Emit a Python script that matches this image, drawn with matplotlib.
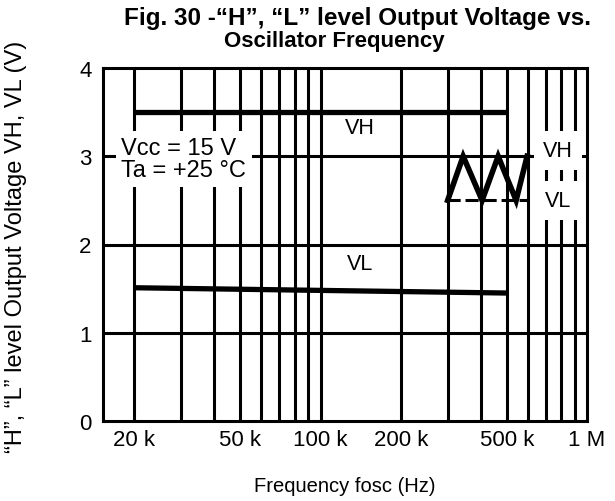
import matplotlib
matplotlib.use("Agg")
import matplotlib.pyplot as plt
from matplotlib.ticker import FixedLocator, NullFormatter

plt.rcParams['font.family'] = ['Liberation Sans', 'DejaVu Sans']

# Data
freq = [20e3, 500e3]
vh = [3.5, 3.5]
vl = [1.51, 1.45]

# Inset waveform sketch (triangle wave between VL and VH)
wave_f = [300e3, 343e3, 404e3, 464e3, 542e3, 596e3]
wave_v = [2.5, 3.0, 2.5, 3.0, 2.5, 3.0]
dash_f = [297e3, 596e3]
dash_v = [2.5, 2.5]

xtick_vals = [20e3, 50e3, 100e3, 200e3, 500e3, 1e6]
xtick_labels = ["20 k", "50 k", "100 k", "200 k", "500 k", "1 M"]
grid_x = [20e3, 30e3, 40e3, 50e3, 60e3, 70e3, 80e3, 90e3,
          100e3, 200e3, 300e3, 400e3, 500e3, 600e3, 700e3, 800e3, 900e3]
ytick_vals = [0, 1, 2, 3, 4]

W, H = 615, 502
fig = plt.figure(figsize=(W / 100, H / 100), dpi=100)
ax = fig.add_axes([102.5 / W, 1 - 422 / H, (587 - 102.5) / W, (422 - 69) / H])

ax.set_xscale('log')
ax.set_xlim(15.2e3, 1e6)
ax.set_ylim(0, 4)

glw = 2.2
for gx in grid_x:
    ax.axvline(gx, color='black', lw=glw, zorder=0.5)
for gy in [1, 2, 3]:
    ax.axhline(gy, color='black', lw=glw, zorder=0.5)

ax.plot(freq, vh, color='black', lw=3.8, solid_capstyle='butt', zorder=2)
ax.plot(freq, vl, color='black', lw=3.8, solid_capstyle='butt', zorder=2)
ax.plot(wave_f, wave_v, color='black', lw=4.0, solid_joinstyle='miter', zorder=2)
ax.plot(dash_f, dash_v, color='black', lw=2.2, dashes=(4.3, 1.6), zorder=2)

for s in ax.spines.values():
    s.set_linewidth(glw)
    s.set_color('black')

ax.xaxis.set_major_locator(FixedLocator(xtick_vals))
ax.set_xticklabels(xtick_labels)
ax.xaxis.set_minor_locator(FixedLocator([]))
ax.xaxis.set_minor_formatter(NullFormatter())
ax.set_yticks(ytick_vals)
ax.tick_params(axis='both', length=0, labelsize=16)
ax.tick_params(axis='x', pad=6)
ax.tick_params(axis='y', pad=8)

ax.set_xlabel("Frequency fosc (Hz)", fontsize=14.5)
ax.xaxis.set_label_coords(0.5, -(487 - 422) / (422 - 69), transform=ax.transAxes)
ax.xaxis.label.set_va('center')
ax.set_ylabel("\u201cH\u201d, \u201cL\u201d level Output Voltage VH, VL (V)", fontsize=17)
ax.yaxis.set_label_coords(-(102.5 - 16) / (587 - 102.5), (422 - 247) / (422 - 69), transform=ax.transAxes)
ax.yaxis.label.set_va('center')

ax.text(141e3, 3.33, "VH", fontsize=15.5, ha='center', va='center', zorder=3)
ax.text(141e3, 1.78, "VL", fontsize=15.5, ha='center', va='center', zorder=3)
ax.text(30.7e3, 2.97, "Vcc = 15 V\nTa = +25 \u00b0C", fontsize=17, ha='center', va='center',
        multialignment='left', linespacing=1.03, zorder=3,
        bbox=dict(facecolor='white', edgecolor='none', pad=4))
ax.text(778e3, 3.06, "VH", fontsize=15.5, ha='center', va='center', zorder=3,
        bbox=dict(facecolor='white', edgecolor='none', pad=6.5))
ax.text(778e3, 2.50, "VL", fontsize=15.5, ha='center', va='center', zorder=3,
        bbox=dict(facecolor='white', edgecolor='none', pad=6.5))

fig.text(357 / W, 1 - 18 / H, "Fig. 30 -\u201cH\u201d, \u201cL\u201d level Output Voltage vs.",
         fontsize=17.5, fontweight='bold', ha='center', va='center')
fig.text(334 / W, 1 - 41 / H, "Oscillator Frequency",
         fontsize=16, fontweight='bold', ha='center', va='center')

fig.savefig("out.png", dpi=100)
